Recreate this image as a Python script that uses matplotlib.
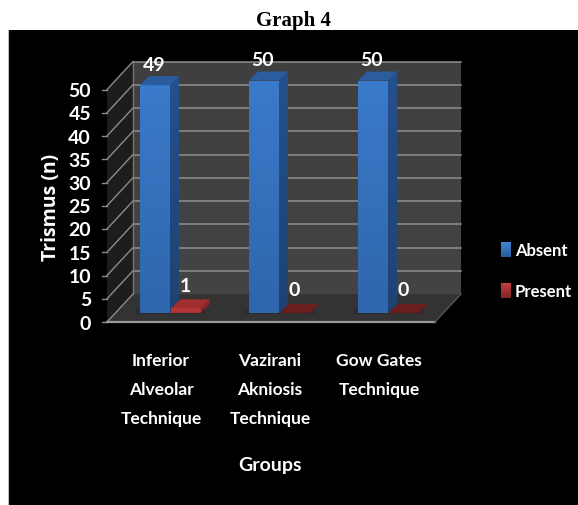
import numpy as np
import matplotlib
matplotlib.use('Agg')
import matplotlib.pyplot as plt
from matplotlib.patches import Polygon, Rectangle

groups = ['Inferior\nAlveolar\nTechnique', 'Vazirani\nAkniosis\nTechnique', 'Gow Gates\nTechnique']
absent = [49, 50, 50]
present = [1, 0, 0]
y_ticks = [0, 5, 10, 15, 20, 25, 30, 35, 40, 45, 50]

FONT = 'Lato'

# chart geometry, in figure pixels
x0, y0 = 107, 323
x_end = 435
unit = 4.65
wall_dx, wall_dy = 26, 28
bar_left = [140, 249, 358]
bar_w = 30
bar_base = 314
bar_dx, bar_dy = 9, 9

fig = plt.figure(figsize=(5.78, 5.06), dpi=100, facecolor='white')
ax = fig.add_axes([0, 0, 1, 1])
ax.set_xlim(0, 578)
ax.set_ylim(506, 0)
ax.axis('off')


def vy(v):
    return y0 - v * unit


def shaded(pts, top, bottom, z):
    # polygon filled with a vertical colour gradient
    pts = np.array(pts, dtype=float)
    poly = Polygon(pts, closed=True, fc='none', ec='none', zorder=z)
    ax.add_patch(poly)
    cmap = matplotlib.colors.LinearSegmentedColormap.from_list('g', [top, bottom])
    im = ax.imshow(np.linspace(0, 1, 64).reshape(-1, 1), cmap=cmap, aspect='auto', zorder=z,
                   extent=(pts[:, 0].min(), pts[:, 0].max(), pts[:, 1].max(), pts[:, 1].min()))
    im.set_clip_path(poly)


def bar3d(left, value, front, side, cap):
    h = bar_base - value * unit
    if value > 0:
        shaded([(left, bar_base), (left + bar_w, bar_base), (left + bar_w, h), (left, h)], front[0], front[1], 5)
        shaded([(left + bar_w, bar_base), (left + bar_w + bar_dx, bar_base - bar_dy),
                (left + bar_w + bar_dx, h - bar_dy), (left + bar_w, h)], side[0], side[1], 5)
    ax.add_patch(Polygon([(left, h), (left + bar_w, h), (left + bar_w + bar_dx, h - bar_dy),
                          (left + bar_dx, h - bar_dy)], closed=True, fc=cap, ec='none', zorder=6))


ax.add_patch(Rectangle((8, 31), 570, 475, fc='black', ec='none', zorder=0))
ax.plot([7.5, 7.5], [31, 506], color='#bbbbbb', lw=0.8, zorder=0)

# walls and floor
shaded([(x0 + wall_dx, vy(0) - wall_dy), (x_end + wall_dx, vy(0) - wall_dy),
        (x_end + wall_dx, vy(50) - wall_dy), (x0 + wall_dx, vy(50) - wall_dy)], '#3f3f3f', '#444444', 1)
ax.add_patch(Polygon([(x0, vy(0)), (x0 + wall_dx, vy(0) - wall_dy), (x0 + wall_dx, vy(50) - wall_dy),
                      (x0, vy(50))], closed=True, fc='#1d1d1d', ec='none', zorder=1))
ax.add_patch(Polygon([(x0, vy(0)), (x_end, vy(0)), (x_end + wall_dx, vy(0) - wall_dy),
                      (x0 + wall_dx, vy(0) - wall_dy)], closed=True, fc='#333333', ec='none', zorder=1))

# gridlines on the walls
for t in y_ticks:
    by = vy(t) - wall_dy
    ax.plot([x0, x0 + wall_dx], [vy(t), by], color='#8c8c8c', lw=1, zorder=2)
    ax.plot([x0 - 5, x0], [vy(t), vy(t)], color='#8c8c8c', lw=1, zorder=2)
    if t > 0:
        ax.plot([x0 + wall_dx, x_end + wall_dx], [by, by], color='#8f8f8f', lw=1.1, zorder=2)
    ax.text(91, vy(t) + 1, str(t), color='white', ha='right', va='center', fontsize=14,
            fontweight='bold', family=FONT, zorder=8)
ax.plot([x0 + wall_dx, x0 + wall_dx], [vy(0) - wall_dy, vy(50) - wall_dy], color='#777777', lw=1, zorder=2)
ax.plot([x0, x_end], [vy(0), vy(0)], color='#9a9a9a', lw=1.6, zorder=3)
ax.plot([x_end, x_end + wall_dx], [vy(0), vy(0) - wall_dy], color='#555555', lw=1, zorder=3)

# bars with their value labels
for i, name in enumerate(groups):
    left = bar_left[i]
    ax.add_patch(Rectangle((left - 4, bar_base - 3), 70, 4, fc='#2c2c2c', ec='none', zorder=3))
    bar3d(left, absent[i], ('#3a7aca', '#2f66ad'), ('#24508c', '#1f4272'), '#2a5c9e')
    ax.text(left + 14, bar_base - absent[i] * unit - 21, str(absent[i]), color='white',
            ha='center', va='center', fontsize=14, fontweight='bold', family=FONT, zorder=8)

    red_left = left + bar_w + 1
    if present[i] > 0:
        bar3d(red_left, present[i], ('#c0393a', '#a83031'), ('#8a2a2a', '#7a2424'), '#a02e2e')
    else:
        bar3d(red_left, present[i], ('#6b1d1d', '#6b1d1d'), ('#6b1d1d', '#6b1d1d'), '#6b1e1e')
    ax.text(red_left + 14, 287 if present[i] > 0 else 291, str(present[i]), color='white',
            ha='center', va='center', fontsize=14, fontweight='bold', family=FONT, zorder=8)

    ax.text(left + 21, 353, name, color='white', ha='center', va='top', fontsize=12.5,
            fontweight='bold', family=FONT, linespacing=2.0, zorder=8)

# axis titles and chart title
ax.text(51, 207, 'Trismus (n)', color='white', rotation=90, ha='center', va='center',
        fontsize=14, fontweight='bold', family='Open Sans')
ax.text(270, 466, 'Groups', color='white', ha='center', va='center', fontsize=14,
        fontweight='bold', family=FONT)
ax.text(293, 21, 'Graph 4', color='black', ha='center', va='center', fontsize=15,
        fontweight='bold', family='Liberation Serif')

# legend
for label, top, bottom, sy in [('Absent', '#3f86d6', '#2a5c9e', 243), ('Present', '#c64040', '#7e2626', 284)]:
    shaded([(501, sy), (511, sy), (511, sy + 15), (501, sy + 15)], top, bottom, 5)
    ax.text(515, sy + 8, label, color='white', ha='left', va='center', fontsize=12,
            fontweight='bold', family=FONT)

ax.set_xlim(0, 578)
ax.set_ylim(506, 0)
fig.savefig('out.png', dpi=100)
